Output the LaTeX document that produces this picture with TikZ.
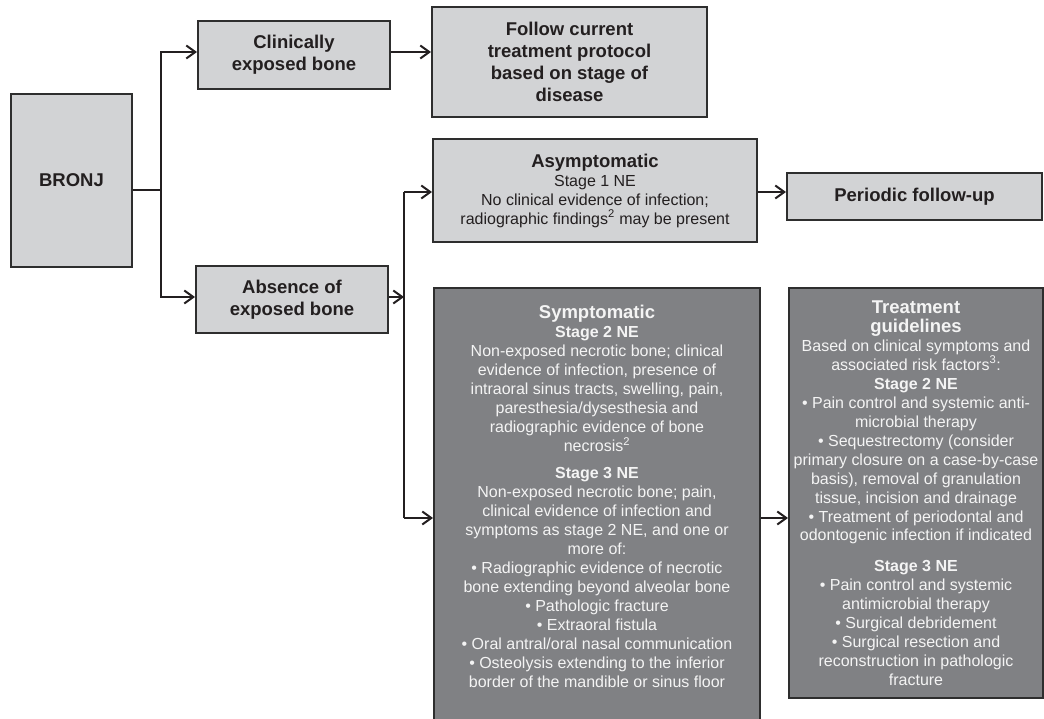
\documentclass[tikz,border=0pt]{standalone}
\usepackage{fontspec}
\setmainfont{Liberation Sans}
\usetikzlibrary{arrows.meta}
\definecolor{lightf}{HTML}{D2D3D5}
\definecolor{darkf}{HTML}{808184}
\definecolor{bordc}{HTML}{2E2E2E}
\definecolor{linec}{HTML}{231F20}
\definecolor{txt}{HTML}{231F20}
\definecolor{wtxt}{HTML}{F4F4F4}
\tikzset{
  lbox/.style={draw=bordc, line width=2pt, fill=lightf, inner sep=0pt, align=center, text=txt},
  dbox/.style={draw=bordc, line width=2pt, fill=darkf, inner sep=0pt, text=wtxt, anchor=north west},
  conn/.style={line width=2pt, draw=linec, line join=miter},
  arr/.style={conn, -{Straight Barb[length=9pt,width=13pt]}},
  hfont/.style={font=\fontsize{18.5}{22}\selectfont\bfseries},
  bfont/.style={font=\fontsize{16}{19}\selectfont},
}
\newcommand{\hd}[1]{{\fontsize{18.5}{19}\selectfont\bfseries #1}}
\begin{document}
\begin{tikzpicture}[x=1pt,y=-1pt]
\useasboundingbox (0,0) rectangle (1044,719);
\begin{scope}
\clip (0,0) rectangle (1044,719);
% boxes
\node[lbox,hfont,minimum width=121,minimum height=173] (bronj) at (71.5,180.5) {BRONJ};
\node[lbox,hfont,minimum width=192,minimum height=68] (clin) at (294,55) {Clinically\\exposed bone};
\node[lbox,hfont,minimum width=275,minimum height=110] (follow) at (569.5,62) {Follow current\\treatment protocol\\based on stage of\\disease};
\node[lbox,hfont,minimum width=192,minimum height=67] (absn) at (292,299.5) {Absence of\\exposed bone};
\node[lbox,bfont,minimum width=324,minimum height=103] (asym) at (595,190.5) {\hd{Asymptomatic}\\Stage 1 NE\\No clinical evidence of infection;\\radiographic findings\textsuperscript{2} may be present};
\node[lbox,hfont,minimum width=255,minimum height=47] (per) at (914.5,196.5) {Periodic follow-up};
\node[dbox] (symp) at (433,287) {\parbox[t][436pt][t]{326pt}{\centering\fontsize{16}{19}\selectfont
\rule{0pt}{31pt}\hd{Symptomatic}\\
\textbf{Stage 2 NE}\\
Non-exposed necrotic bone; clinical\\
evidence of infection, presence of\\
intraoral sinus tracts, swelling, pain,\\
paresthesia/dysesthesia and\\
radiographic evidence of bone\\
necrosis\textsuperscript{2}\\[8pt]
\textbf{Stage 3 NE}\\
Non-exposed necrotic bone; pain,\\
clinical evidence of infection and\\
symptoms as stage 2 NE, and one or\\
more of:\\
• Radiographic evidence of necrotic\\
bone extending beyond alveolar bone\\
• Pathologic fracture\\
• Extraoral fistula\\
• Oral antral/oral nasal communication\\
• Osteolysis extending to the inferior\\
border of the mandible or sinus floor\par}};
\node[dbox] (treat) at (788,287) {\parbox[t][410pt][t]{254pt}{\centering\fontsize{16}{19}\selectfont
\rule{0pt}{25pt}\hd{Treatment}\\
\hd{guidelines}\\
Based on clinical symptoms and\\
associated risk factors\textsuperscript{3}:\\
\textbf{Stage 2 NE}\\
• Pain control and systemic anti-\\
microbial therapy\\
• Sequestrectomy (consider\\
primary closure on a case-by-case\\
basis), removal of granulation\\
tissue, incision and drainage\\
• Treatment of periodontal and\\
odontogenic infection if indicated\\[12pt]
\textbf{Stage 3 NE}\\
• Pain control and systemic\\
antimicrobial therapy\\
• Surgical debridement\\
• Surgical resection and\\
reconstruction in pathologic\\
fracture\par}};
\end{scope}
% junctions
\coordinate (j0) at (161,190);
\coordinate (jtop) at (161,52);
\coordinate (jbot) at (161,297);
\coordinate (k) at (404,297);
\coordinate (ktop) at (404,192);
\coordinate (kbot) at (404,518);
% connectors
\draw[conn] (bronj.east |- j0) -- (j0);
\draw[arr] (j0) -- (jtop) -- (clin.west |- jtop);
\draw[arr] (j0) -- (jbot) -- (absn.west |- jbot);
\draw[arr] (clin.east |- jtop) -- (follow.west |- jtop);
\draw[arr] (absn.east |- k) -- (k);
\draw[conn] (ktop) -- (kbot);
\draw[arr] (ktop) -- (asym.west |- ktop);
\draw[arr] (kbot) -- (symp.west |- kbot);
\draw[arr] (asym.east |- ktop) -- (per.west |- ktop);
\draw[arr] (symp.east |- kbot) -- (treat.west |- kbot);
\end{tikzpicture}
\end{document}
